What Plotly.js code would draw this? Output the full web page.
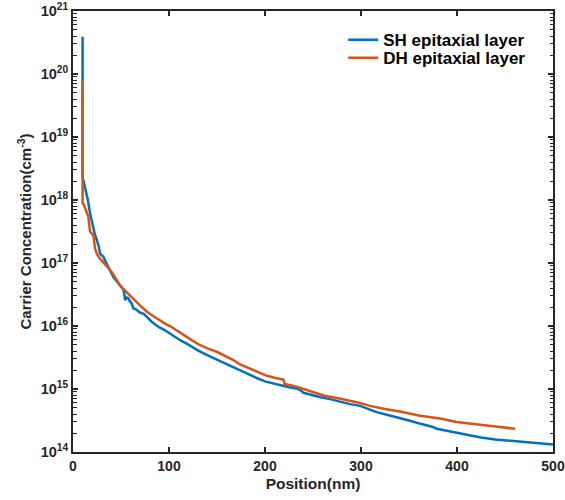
<!DOCTYPE html>
<html>
<head>
<meta charset="utf-8">
<script src="https://cdn.plot.ly/plotly-3.0.1.min.js"></script>
<style>html,body{margin:0;padding:0;background:#fff;}#chart{width:565px;height:500px;}</style>
</head>
<body>
<div id="chart"></div>
<script>
// Position (nm) and carrier concentration (cm^-3) for SH epitaxial layer
const shX = [10, 10, 11, 12.5, 14, 15.5, 17.7, 19.5, 21, 22.5, 24.7, 27, 28.1, 31.6, 34, 36, 39, 42, 45, 49, 52.4, 53.5, 54.2, 56, 57.6, 59, 61, 63, 66, 69, 71.5, 74, 76.7, 79, 82, 86, 90, 95, 101, 106, 112, 118.4, 124, 130, 139.2, 145, 150, 157, 163.5, 170, 176, 184.4, 192, 200, 208, 215.6, 225, 233, 237, 240, 250, 258, 267.7, 278, 288.5, 299, 308, 316.3, 330, 340.6, 352, 362, 371.9, 375, 378.8, 395, 410, 425, 440, 462, 480, 500];
const shY = [3.9e20, 2.2e18, 2.0e18, 1.6e18, 1.26e18, 1.0e18, 6.2e17, 4.5e17, 3.55e17, 2.95e17, 2.35e17, 1.78e17, 1.41e17, 1.26e17, 1.05e17, 8.9e16, 7.4e16, 6.0e16, 5.25e16, 4.5e16, 3.8e16, 3.16e16, 2.57e16, 2.82e16, 2.75e16, 2.5e16, 2.3e16, 1.9e16, 1.82e16, 1.66e16, 1.62e16, 1.55e16, 1.41e16, 1.29e16, 1.17e16, 1.05e16, 9.5e15, 8.7e15, 7.6e15, 6.6e15, 5.9e15, 5.25e15, 4.6e15, 4.1e15, 3.47e15, 3.16e15, 2.88e15, 2.57e15, 2.3e15, 2.09e15, 1.9e15, 1.66e15, 1.48e15, 1.32e15, 1.23e15, 1.15e15, 1.07e15, 1.02e15, 9.5e14, 8.7e14, 7.9e14, 7.4e14, 6.9e14, 6.3e14, 5.75e14, 5.4e14, 4.8e14, 4.3e14, 3.8e14, 3.4e14, 3.1e14, 2.8e14, 2.57e14, 2.5e14, 2.34e14, 2.09e14, 1.86e14, 1.7e14, 1.58e14, 1.48e14, 1.38e14, 1.32e14];
// Position (nm) and carrier concentration (cm^-3) for DH epitaxial layer
const dhX = [10, 10, 11.5, 13, 14.5, 16, 17.7, 19, 21.2, 22.9, 25, 28.1, 31, 35, 38.5, 42, 45, 49, 52.4, 56, 59.4, 65, 70, 76.7, 83, 90, 97.6, 101, 108, 115, 120, 125.3, 132, 140, 149.7, 158, 167, 174, 180, 187, 194.8, 202, 210, 219, 220.5, 230, 242, 253.8, 262, 275, 288.5, 299, 309.4, 325, 340.6, 360, 382.3, 399.7, 415, 427.4, 445, 460.4];
const dhY = [7.9e19, 8.9e17, 8.3e17, 7.1e17, 6.0e17, 5.4e17, 3.16e17, 2.95e17, 2.75e17, 1.7e17, 1.38e17, 1.17e17, 1.05e17, 8.9e16, 7.8e16, 6.6e16, 5.5e16, 4.4e16, 3.9e16, 3.4e16, 3.1e16, 2.5e16, 2.1e16, 1.7e16, 1.45e16, 1.23e16, 1.05e16, 1.0e16, 8.5e15, 7.2e15, 6.3e15, 5.75e15, 5.0e15, 4.4e15, 3.9e15, 3.4e15, 2.88e15, 2.45e15, 2.24e15, 2.0e15, 1.78e15, 1.62e15, 1.51e15, 1.41e15, 1.2e15, 1.12e15, 9.8e14, 8.5e14, 7.8e14, 7.2e14, 6.6e14, 6.0e14, 5.4e14, 4.8e14, 4.4e14, 3.8e14, 3.4e14, 3.0e14, 2.8e14, 2.7e14, 2.5e14, 2.34e14];
const seriesNames = ['SH epitaxial layer', 'DH epitaxial layer'];
const xTicks = [0, 100, 200, 300, 400, 500];
const yTickExp = [14, 15, 16, 17, 18, 19, 20, 21];

const yTickVals = yTickExp.map(e => Math.pow(10, e));
const yTickText = yTickExp.map(e => '10<sup>' + e + '</sup>');
const yMinorVals = [];
yTickExp.slice(0, -1).forEach(e => { for (let m = 2; m <= 9; m++) yMinorVals.push(m * Math.pow(10, e)); });

const axisCol = '#262626';
const fontFam = 'Liberation Sans, Arial, sans-serif';

const traces = [
  {x: shX, y: shY, mode: 'lines', name: seriesNames[0], legend: 'legend', line: {color: '#0072BD', width: 2.5}},
  {x: dhX, y: dhY, mode: 'lines', name: seriesNames[1], legend: 'legend2', line: {color: '#D95319', width: 2.5}},
  {x: [null], y: [null], yaxis: 'y2', xaxis: 'x', mode: 'lines', showlegend: false, hoverinfo: 'skip'}
];

const legFont = {family: fontFam, size: 17, color: '#000', weight: 'bold'};
const yCommon = {
  type: 'log', range: [14, 21], tickvals: yTickVals,
  ticks: 'inside', ticklen: 5, tickwidth: 1.5, tickcolor: axisCol,
  minor: {ticks: 'inside', ticklen: 3.5, tickcolor: axisCol, tickwidth: 1, tickmode: 'array', tickvals: yMinorVals, showgrid: false},
  showgrid: false, zeroline: false
};

const layout = {
  width: 565, height: 500,
  margin: {l: 73, r: 12, t: 11, b: 48},
  paper_bgcolor: '#fff', plot_bgcolor: '#fff',
  font: {family: fontFam, color: axisCol, size: 13, weight: 'bold'},
  showlegend: true,
  legend: {x: 0.563, y: 0.934, xanchor: 'left', yanchor: 'middle', bgcolor: 'rgba(0,0,0,0)', font: legFont, itemwidth: 30},
  legend2: {x: 0.563, y: 0.893, xanchor: 'left', yanchor: 'middle', bgcolor: 'rgba(0,0,0,0)', font: legFont, itemwidth: 30},
  xaxis: {
    range: [0, 500], tickvals: xTicks, ticktext: xTicks.map(String),
    ticks: 'inside', ticklen: 5, tickwidth: 1.5, tickcolor: axisCol,
    showline: true, linecolor: axisCol, linewidth: 2, mirror: 'ticks',
    showgrid: false, zeroline: false, ticklabeloverflow: 'allow',
    tickfont: {family: fontFam, size: 14, color: axisCol, weight: 'bold'},
    title: {text: 'Position(nm)', font: {family: fontFam, size: 15.5, color: axisCol, weight: 'bold'}, standoff: 5}
  },
  yaxis: Object.assign({}, yCommon, {
    ticktext: yTickText, ticklabeloverflow: 'allow',
    showline: true, linecolor: axisCol, linewidth: 2, mirror: true,
    tickfont: {family: fontFam, size: 14.5, color: axisCol, weight: 'bold'},
    title: {text: 'Carrier Concentration(cm<sup>-3</sup>)', font: {family: fontFam, size: 15, color: axisCol, weight: 'bold'}, standoff: 5}
  }),
  yaxis2: Object.assign({}, yCommon, {
    overlaying: 'y', side: 'right', anchor: 'x', showticklabels: false, showline: false
  })
};

Plotly.newPlot('chart', traces, layout, {displayModeBar: false, staticPlot: true});
</script>
</body>
</html>
